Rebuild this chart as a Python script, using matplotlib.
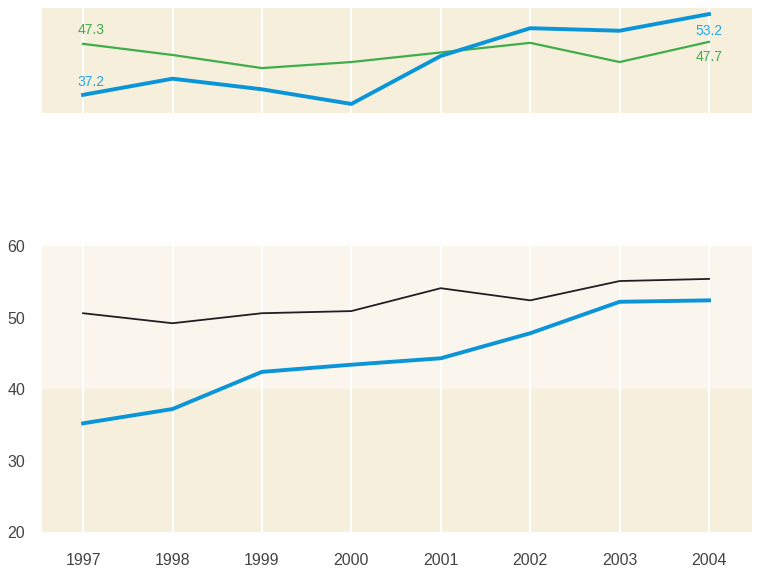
import matplotlib
matplotlib.use('Agg')
import matplotlib.pyplot as plt

plt.rcParams['font.family'] = ['Liberation Sans', 'DejaVu Sans']

years = [1997, 1998, 1999, 2000, 2001, 2002, 2003, 2004]

# top panel
top_blue = [37.2, 40.4, 38.3, 35.4, 44.9, 50.4, 49.9, 53.2]
top_green = [47.3, 45.1, 42.5, 43.7, 45.6, 47.5, 43.7, 47.7]

# bottom panel
bot_black = [50.6, 49.2, 50.6, 50.9, 54.1, 52.4, 55.1, 55.4]
bot_blue = [35.2, 37.2, 42.4, 43.4, 44.3, 47.8, 52.2, 52.4]

yticks = [20, 30, 40, 50, 60]

BLUE = '#0a95d8'
GREEN = '#3fae4a'
BG = '#f5efdc'
BG_LIGHT = '#faf6ee'
TXT = '#444444'

fig = plt.figure(figsize=(7.63, 5.72), dpi=100)
ax_top = fig.add_axes([0.055, 0.8024, 0.9305, 0.1836])
ax_bot = fig.add_axes([0.055, 0.0699, 0.9305, 0.5])

for ax in (ax_top, ax_bot):
    ax.set_facecolor(BG)
    for s in ax.spines.values():
        s.set_visible(False)
    for yr in years:
        ax.axvline(yr, color='white', lw=1.5, zorder=1)
    ax.set_xlim(1996.54, 2004.48)

# top
ax_top.plot(years, top_green, color=GREEN, lw=1.6, zorder=3)
ax_top.plot(years, top_blue, color=BLUE, lw=2.8, zorder=4)
ax_top.set_ylim(33.6, 54.4)
ax_top.set_xticks([])
ax_top.set_yticks([])

ax_top.annotate(f'{top_green[0]}', (years[0], top_green[0]), xytext=(-4, 5),
                textcoords='offset points', ha='left', va='bottom',
                color=GREEN, fontsize=10)
ax_top.annotate(f'{top_blue[0]}', (years[0], top_blue[0]), xytext=(-4, 4),
                textcoords='offset points', ha='left', va='bottom',
                color='#2aa6e0', fontsize=10)
ax_top.annotate(f'{top_blue[-1]}', (years[-1], top_blue[-1]), xytext=(0, -7),
                textcoords='offset points', ha='center', va='top',
                color='#2aa6e0', fontsize=10)
ax_top.annotate(f'{top_green[-1]}', (years[-1], top_green[-1]), xytext=(0, -6),
                textcoords='offset points', ha='center', va='top',
                color=GREEN, fontsize=10)

# bottom
ax_bot.axhspan(40, 60, color=BG_LIGHT, zorder=0, lw=0)
ax_bot.plot(years, bot_black, color='#231f20', lw=1.3, zorder=3)
ax_bot.plot(years, bot_blue, color=BLUE, lw=2.8, zorder=4)
ax_bot.set_ylim(20, 60)
ax_bot.set_yticks(yticks)
ax_bot.set_xticks(years)
ax_bot.tick_params(axis='both', length=0, colors=TXT, labelsize=11.5)
ax_bot.tick_params(axis='y', pad=12)
ax_bot.tick_params(axis='x', pad=15)

plt.savefig('out.png', dpi=100)
